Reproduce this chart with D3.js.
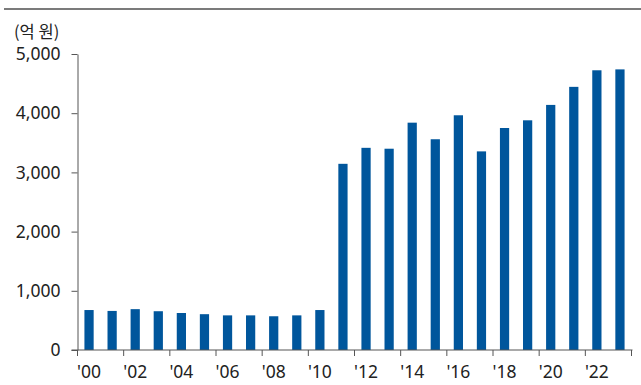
<!DOCTYPE html>
<html>
<head>
<meta charset="utf-8">
<script src="https://cdn.jsdelivr.net/npm/d3@7"></script>
<style>
  body { margin: 0; background: #fff; }
  svg { display: block; font-family: "Noto Sans", sans-serif; }
</style>
</head>
<body>
<div id="chart"></div>
<script>
// yearly values (억 원), 2000-2023
const years = d3.range(2000, 2024)
const values = [675, 660, 690, 655, 625, 605, 585, 585, 570, 585, 675,
  3145, 3415, 3400, 3840, 3560, 3965, 3355, 3750, 3880, 4140, 4445, 4725, 4740]
const yTicks = [0, 1000, 2000, 3000, 4000, 5000]
const unitLabel = "(억 원)"

const width = 641, height = 385
const plotLeft = 77.5, plotRight = 631.5, plotTop = 54, plotBottom = 350

const svg = d3.select("#chart").append("svg")
  .attr("width", width)
  .attr("height", height)

// top rule
svg.append("line")
  .attr("x1", 4).attr("x2", width)
  .attr("y1", 9).attr("y2", 9)
  .attr("stroke", "#7b7b7b")
  .attr("stroke-width", 2)

var x = d3.scaleBand()
  .domain(years)
  .range([plotLeft, plotRight])
  .paddingInner(0.6)
  .paddingOuter(0.3)

var y = d3.scaleLinear()
  .domain([0, 5000])
  .range([plotBottom, plotTop])

const step = x.step()
const edge = function(yr) { return x(yr) - (step - x.bandwidth()) / 2 }

/* ------- BARS -------*/
svg.append("g").selectAll("rect")
  .data(years.map((yr, i) => ({ year: yr, value: values[i] })))
  .join("rect")
    .attr("x", d => x(d.year))
    .attr("width", x.bandwidth())
    .attr("y", d => y(d.value))
    .attr("height", d => y(0) - y(d.value))
    .attr("fill", "#00569c")

/* ------- Y AXIS -------*/
var yAxis = svg.append("g")
  .attr("transform", "translate(" + plotLeft + ",0)")
  .call(d3.axisLeft(y)
    .tickValues(yTicks)
    .tickFormat(d3.format(","))
    .tickSize(6)
    .tickSizeOuter(0)
    .tickPadding(11))
yAxis.selectAll("path, line").attr("stroke", "#555")
yAxis.selectAll("text")
  .attr("font-size", 17.5)
  .attr("fill", "#222")
  .attr("font-family", "Noto Sans, sans-serif")

/* ------- X AXIS -------*/
const tickYears = years.filter(yr => yr % 2 === 0)
var xg = svg.append("g")
xg.append("line")
  .attr("x1", plotLeft - 6).attr("x2", plotRight + 1)
  .attr("y1", plotBottom).attr("y2", plotBottom)
  .attr("stroke", "#555")
xg.selectAll("line.tick")
  .data(tickYears.concat([2024]))
  .join("line")
    .attr("class", "tick")
    .attr("x1", d => d === 2024 ? plotRight : edge(d))
    .attr("x2", d => d === 2024 ? plotRight : edge(d))
    .attr("y1", plotBottom)
    .attr("y2", plotBottom + 6)
    .attr("stroke", "#555")
xg.selectAll("text")
  .data(tickYears)
  .join("text")
    .attr("x", d => x(d) + x.bandwidth() / 2)
    .attr("y", 378)
    .attr("text-anchor", "middle")
    .attr("font-size", 17.5)
    .attr("fill", "#222")
    .text(d => "'" + String(d).slice(2))

// unit label
svg.append("text")
  .attr("x", 14)
  .attr("y", 38)
  .attr("font-size", 16.5)
  .attr("fill", "#222")
  .attr("font-family", "Noto Sans CJK KR, Noto Sans, sans-serif")
  .text(unitLabel)
</script>
</body>
</html>
